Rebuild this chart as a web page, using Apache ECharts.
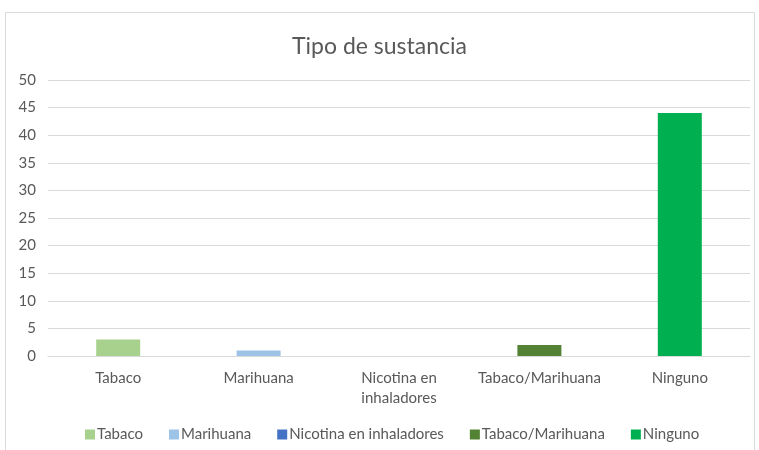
<!DOCTYPE html>
<html><head><meta charset="utf-8">
<script src="https://cdn.jsdelivr.net/npm/echarts@6/dist/echarts.min.js"></script>
<style>html,body{margin:0;padding:0;background:#fff}#c{width:759px;height:450px}</style>
</head><body><div id="c"></div>
<script>
var categories = ['Tabaco', 'Marihuana', 'Nicotina en\ninhaladores', 'Tabaco/Marihuana', 'Ninguno'];
var legendNames = ['Tabaco', 'Marihuana', 'Nicotina en inhaladores', 'Tabaco/Marihuana', 'Ninguno'];
var values = [3, 1, 0, 2, 44];
var colors = ['#A9D18E', '#9DC3E6', '#4472C4', '#548235', '#00B050'];
var yTicks = {min: 0, max: 50, interval: 5};

var FONT = 'Lato';
var series = legendNames.map(function(n, i){
  var d = values.map(function(v, j){ return j === i ? v : null; });
  return {name: n, type: 'bar', stack: 'all', data: d, barWidth: 44,
    itemStyle: {color: colors[i]}};
});
var chart = echarts.init(document.getElementById('c'));
chart.setOption({
  animation: false,
  textStyle: {fontFamily: FONT},
  title: {text: 'Tipo de sustancia', left: 'center', top: 30,
    textStyle: {fontFamily: FONT, fontSize: 23, fontWeight: 'normal', color: '#595959'}},
  graphic: [{type: 'rect', shape: {x: 5.5, y: 12.5, width: 749, height: 450},
    style: {fill: 'none', stroke: '#D9D9D9', lineWidth: 1}, silent: true}],
  grid: {left: 48, right: 9, top: 80, bottom: 94},
  legend: {bottom: 3, left: 80, itemWidth: 10, itemHeight: 10, itemGap: 26,
    icon: 'rect', textStyle: {fontFamily: FONT, fontSize: 15, color: '#595959', padding: [0, 0, 0, -3]},
    data: legendNames},
  xAxis: {type: 'category', data: categories,
    axisLine: {lineStyle: {color: '#D9D9D9'}}, axisTick: {show: false},
    axisLabel: {color: '#595959', fontSize: 15, fontFamily: FONT, margin: 12, lineHeight: 20, interval: 0}},
  yAxis: {type: 'value', min: yTicks.min, max: yTicks.max, interval: yTicks.interval,
    axisLine: {show: false}, axisTick: {show: false},
    axisLabel: {color: '#595959', fontSize: 15, fontFamily: FONT, margin: 12},
    splitLine: {lineStyle: {color: '#D9D9D9'}}},
  series: series
});
</script></body></html>
